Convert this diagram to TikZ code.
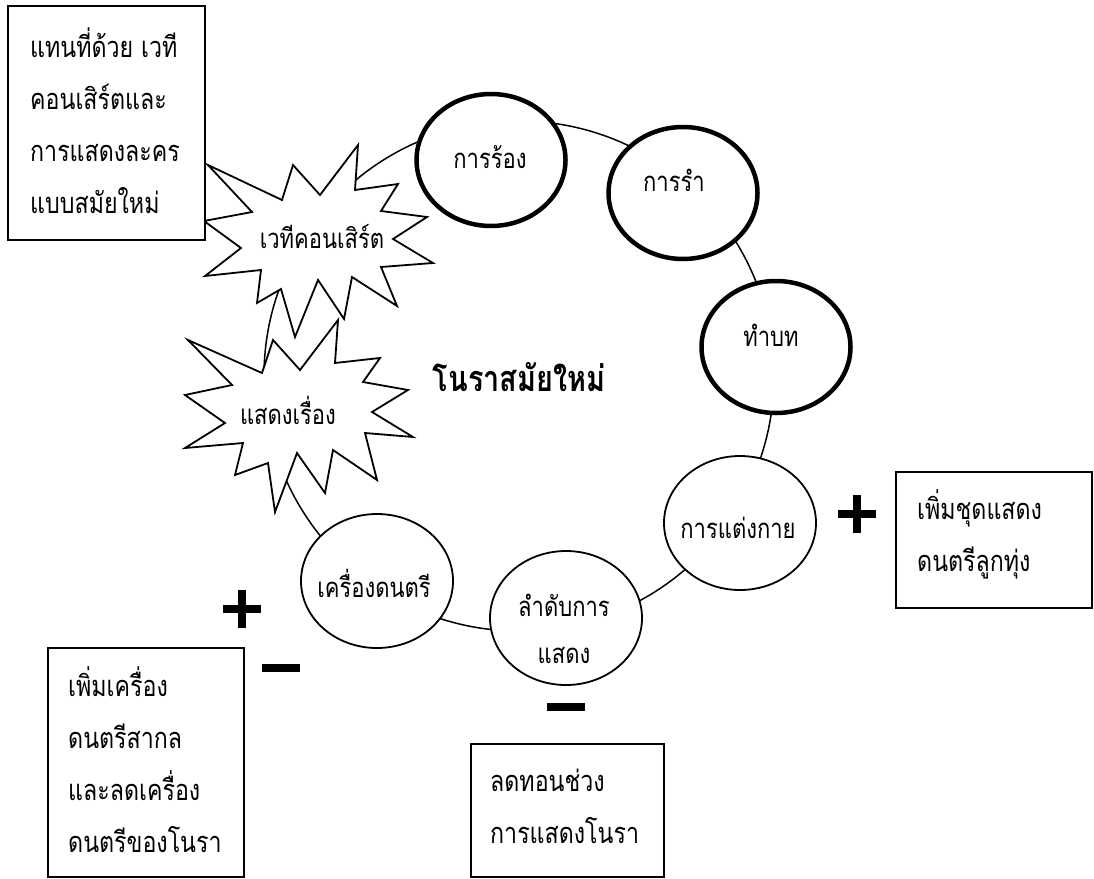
\documentclass[tikz,border=0pt]{standalone}
\usepackage{fontspec}
\newfontfamily\thaifont[Script=Thai, FakeStretch=0.8]{Loma}
\usetikzlibrary{shapes.geometric}
\begin{document}
\begin{tikzpicture}[x=1pt,y=-1pt,
  every node/.style={font=\thaifont},
  ring/.style={line width=1.5pt},
  thickell/.style={ellipse, draw, line width=4.5pt, fill=white, inner sep=0pt, minimum width=149pt, minimum height=132pt},
  thinell/.style={ellipse, draw, line width=1.8pt, fill=white, inner sep=0pt, minimum width=152pt, minimum height=134pt},
  burst/.style={draw, line width=1.8pt, fill=white, line join=miter},
  boxframe/.style={draw, line width=1.8pt, fill=white, rectangle, inner sep=0pt, anchor=north west},
  boxtext/.style={font=\fontsize{29}{52}\selectfont\thaifont, align=left, anchor=west, inner sep=0pt},
  celltext/.style={font=\fontsize{27.5}{47}\selectfont\thaifont, align=center, inner sep=0pt},
  titletext/.style={font=\fontsize{36}{40}\selectfont\thaifont\bfseries, inner sep=0pt},
  sign/.style={fill=black}]

\useasboundingbox (0,0) rectangle (1094,878);
\fill[white] (0,0) rectangle (1094,878);

% ring
\coordinate (c) at (519,376);
\draw[ring] (c) circle[radius=255pt];

% burst 2
\draw[burst] (188,340) -- (262,373) -- (273,340) -- (300,370) -- (338,320) -- (335,363) -- (380,358) -- (363,382) -- (408,390) -- (372,412) -- (413,437) -- (365,433) -- (377,480) -- (333,450) -- (325,493) -- (297,453) -- (275,512) -- (268,463) -- (235,475) -- (243,443) -- (185,448) -- (225,423) -- (185,395) -- (232,385) -- cycle;
\node[celltext] (story) at (288,410) {แสดงเรื่อง};

% burst 1
\draw[burst] (208,165) -- (282,200) -- (293,165) -- (320,195) -- (358,145) -- (355,190) -- (398,184) -- (381,211) -- (427,217) -- (393,239) -- (433,263) -- (381,267) -- (397,306) -- (352,277) -- (344,319) -- (318,280) -- (295,337) -- (281,289) -- (257,303) -- (261,270) -- (205,276) -- (241,248) -- (204,221) -- (252,212) -- cycle;
\node[celltext] (stage) at (322,237) {เวทีคอนเสิร์ต};

% ellipses
\node[thickell] (rong) at (491,160) {};
\node[celltext] (rongt) at (490,157) {การร้อง};
\node[thickell] (ram) at (683,193) {};
\node[celltext] (ramt) at (674,180) {การรำ};
\node[thickell] (bot) at (776,347) {};
\node[celltext] (bott) at (771,335) {ทำบท};
\node[thinell] (taeng) at (740,523) {};
\node[celltext] (taengt) at (738,528) {การแต่งกาย};
\node[thinell] (lamdap) at (566,618) {};
\node[celltext] (lamdapt) at (564,629) {ลำดับการ\\แสดง};
\node[thinell] (dontri) at (377,581) {};
\node[celltext] (dontrit) at (374,583) {เครื่องดนตรี};

% title
\node[titletext] (title) at (519,377) {โนราสมัยใหม่};

% signs
\fill[sign] (838,510) rectangle (876,518);
\fill[sign] (853,495) rectangle (861,533);
\fill[sign] (223,605) rectangle (261,613);
\fill[sign] (238,590) rectangle (246,628);
\fill[sign] (262,664) rectangle (300,672);
\fill[sign] (547,703) rectangle (585,711);

% boxes
\node[boxframe, minimum width=197pt, minimum height=234pt] (b1) at (7,5) {};
\node[boxtext] (t1) at (30,120.5) {แทนที่ด้วย เวที\\คอนเสิร์ตและ\\การแสดงละคร\\แบบสมัยใหม่};
\node[boxframe, minimum width=196pt, minimum height=136pt] (b2) at (895,471) {};
\node[boxtext] (t2) at (917,534) {เพิ่มชุดแสดง\\ดนตรีลูกทุ่ง};
\node[boxframe, minimum width=196pt, minimum height=229pt] (b3) at (47,647) {};
\node[boxtext] (t3) at (68,760) {เพิ่มเครื่อง\\ดนตรีสากล\\และลดเครื่อง\\ดนตรีของโนรา};
\node[boxframe, minimum width=193pt, minimum height=133pt] (b4) at (470,743) {};
\node[boxtext] (t4) at (490,806) {ลดทอนช่วง\\การแสดงโนรา};
\end{tikzpicture}
\end{document}
